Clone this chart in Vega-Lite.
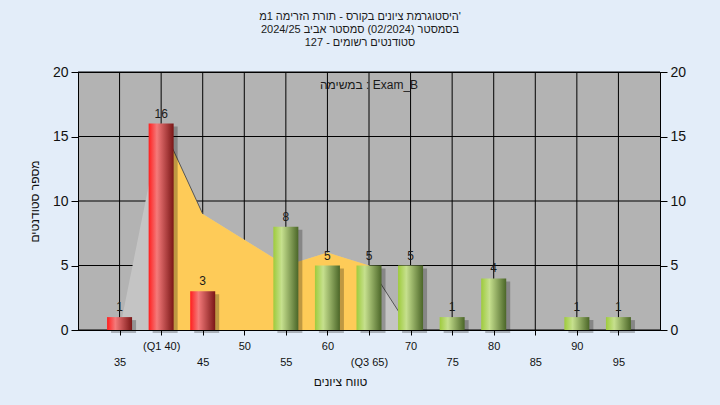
{
  "$schema": "https://vega.github.io/schema/vega-lite/v6.json",
  "width": 582,
  "height": 258,
  "autosize": {"type": "none"},
  "padding": {"left": 78, "top": 72, "right": 60, "bottom": 75},
  "background": "#e3edf9",
  "title": {
    "text": ["היסטוגרמת ציונים בקורס - תורת הזרימה 1מ'", "בסמסטר  (02/2024)  סמסטר אביב 2024/25", "סטודנטים רשומים - 127"],
    "font": "Liberation Sans",
    "fontSize": 11,
    "fontWeight": "normal",
    "color": "#1a1a1a",
    "lineHeight": 13,
    "offset": 17,
    "dx": -9,
    "anchor": "middle"
  },
  "datasets": {
    "bars": [
      {"score": 35, "count": 1, "band": "low"},
      {"score": 40, "count": 16, "band": "low"},
      {"score": 45, "count": 3, "band": "low"},
      {"score": 55, "count": 8, "band": "high"},
      {"score": 60, "count": 5, "band": "high"},
      {"score": 65, "count": 5, "band": "high"},
      {"score": 70, "count": 5, "band": "high"},
      {"score": 75, "count": 1, "band": "high"},
      {"score": 80, "count": 4, "band": "high"},
      {"score": 90, "count": 1, "band": "high"},
      {"score": 95, "count": 1, "band": "high"}
    ],
    "curve": [
      {"score": 35, "value": 0},
      {"score": 40, "value": 16},
      {"score": 45, "value": 9},
      {"score": 50, "value": 7},
      {"score": 55, "value": 5},
      {"score": 60, "value": 6},
      {"score": 65, "value": 5},
      {"score": 70, "value": 0}
    ],
    "xgrid": [{"v": 35}, {"v": 40}, {"v": 45}, {"v": 50}, {"v": 55}, {"v": 60}, {"v": 65}, {"v": 70}, {"v": 75}, {"v": 80}, {"v": 85}, {"v": 90}, {"v": 95}],
    "ygrid": [{"v": 0}, {"v": 5}, {"v": 10}, {"v": 15}, {"v": 20}],
    "note": [{"score": 65, "level": 19, "label": "במשימה : Exam_B"}]
  },
  "config": {
    "view": {"fill": "#b3b3b3", "stroke": "#000000", "strokeWidth": 1},
    "scale": {"continuousPadding": 0},
    "axis": {
      "grid": false,
      "domainColor": "#000000",
      "tickColor": "#000000",
      "labelColor": "#111111",
      "titleColor": "#111111",
      "labelFont": "Liberation Sans",
      "titleFont": "Liberation Sans",
      "titleFontWeight": "normal"
    }
  },
  "resolve": {"axis": {"y": "independent"}},
  "layer": [
    {
      "data": {"name": "ygrid"},
      "mark": {"type": "rule", "color": "#000000", "strokeWidth": 1},
      "encoding": {
        "y": {
          "field": "v", "type": "quantitative",
          "scale": {"domain": [0, 20]},
          "axis": {
            "orient": "right", "values": [0, 5, 10, 15, 20], "title": null,
            "labelFontSize": 14, "tickSize": 7, "labelPadding": 3
          }
        }
      }
    },
    {
      "data": {"name": "xgrid"},
      "mark": {"type": "rule", "color": "#000000", "strokeWidth": 1},
      "encoding": {
        "x": {
          "field": "v", "type": "quantitative",
          "scale": {"domain": [30, 100], "padding": 0},
          "axis": {
            "orient": "bottom",
            "values": [35, 40, 45, 50, 55, 60, 65, 70, 75, 80, 85, 90, 95],
            "labelExpr": "datum.value == 40 ? '(Q1 40)' : (datum.value == 65 ? ['', '(Q3 65)'] : (datum.value % 10 == 5 ? ['', datum.label] : datum.label))",
            "labelFontSize": 11,
            "labelLineHeight": 16,
            "labelBaseline": "top",
            "labelPadding": 5,
            "labelOverlap": false,
            "labelFlush": false,
            "tickSize": 5,
            "title": "טווח ציונים",
            "titleFontSize": 12,
            "titleX": 262,
            "titleY": 51,
            "titleBaseline": "middle",
            "titleAlign": "center"
          }
        }
      }
    },
    {
      "data": {"name": "curve"},
      "mark": {"type": "area", "color": "#c4c4c4", "interpolate": "linear"},
      "encoding": {
        "x": {"field": "score", "type": "quantitative", "scale": {"domain": [30, 100], "padding": 0}},
        "y": {
          "field": "value", "type": "quantitative", "scale": {"domain": [0, 20]},
          "axis": {
            "orient": "left", "values": [0, 5, 10, 15, 20], "title": "מספר סטודנטים",
            "labelFontSize": 14, "tickSize": 7, "labelPadding": 3,
            "titleFontSize": 12, "titleX": -44, "titleY": 129,
            "titleAlign": "center", "titleBaseline": "middle"
          }
        }
      }
    },
    {
      "data": {"name": "curve"},
      "transform": [{"filter": "datum.score >= 40 && datum.score <= 65"}],
      "mark": {"type": "area", "color": "#fecb58", "interpolate": "linear"},
      "encoding": {
        "x": {"field": "score", "type": "quantitative", "scale": {"domain": [30, 100], "padding": 0}},
        "y": {"field": "value", "type": "quantitative", "scale": {"domain": [0, 20]}, "axis": null}
      }
    },
    {
      "data": {"name": "curve"},
      "transform": [{"filter": "datum.score >= 40 && datum.score <= 45"}],
      "mark": {"type": "line", "color": "#555555", "strokeWidth": 1},
      "encoding": {
        "x": {"field": "score", "type": "quantitative", "scale": {"domain": [30, 100], "padding": 0}},
        "y": {"field": "value", "type": "quantitative", "scale": {"domain": [0, 20]}, "axis": null}
      }
    },
    {
      "data": {"name": "curve"},
      "transform": [{"filter": "datum.score >= 65"}],
      "mark": {"type": "line", "color": "#555555", "strokeWidth": 1},
      "encoding": {
        "x": {"field": "score", "type": "quantitative", "scale": {"domain": [30, 100], "padding": 0}},
        "y": {"field": "value", "type": "quantitative", "scale": {"domain": [0, 20]}, "axis": null}
      }
    },
    {
      "data": {"name": "bars"},
      "mark": {"type": "bar", "width": 25, "color": "#000000", "opacity": 0.25, "xOffset": 4, "x2Offset": 4, "yOffset": 3, "y2Offset": 3},
      "encoding": {
        "x": {"field": "score", "type": "quantitative", "scale": {"domain": [30, 100], "padding": 0}},
        "y": {"field": "count", "type": "quantitative", "scale": {"domain": [0, 20]}, "axis": null}
      }
    },
    {
      "data": {"name": "bars"},
      "transform": [{"filter": "datum.band == 'low'"}],
      "mark": {
        "type": "bar", "width": 25,
        "color": {
          "gradient": "linear", "x1": 0, "x2": 1, "y1": 0, "y2": 0,
          "stops": [
            {"offset": 0, "color": "#ff1e1e"},
            {"offset": 0.33, "color": "#f47a7a"},
            {"offset": 1, "color": "#7a1616"}
          ]
        }
      },
      "encoding": {
        "x": {"field": "score", "type": "quantitative", "scale": {"domain": [30, 100], "padding": 0}},
        "y": {"field": "count", "type": "quantitative", "scale": {"domain": [0, 20]}, "axis": null}
      }
    },
    {
      "data": {"name": "bars"},
      "transform": [{"filter": "datum.band == 'high'"}],
      "mark": {
        "type": "bar", "width": 25,
        "color": {
          "gradient": "linear", "x1": 0, "x2": 1, "y1": 0, "y2": 0,
          "stops": [
            {"offset": 0, "color": "#9ecb3c"},
            {"offset": 0.33, "color": "#c6e08e"},
            {"offset": 1, "color": "#4b6628"}
          ]
        }
      },
      "encoding": {
        "x": {"field": "score", "type": "quantitative", "scale": {"domain": [30, 100], "padding": 0}},
        "y": {"field": "count", "type": "quantitative", "scale": {"domain": [0, 20]}, "axis": null}
      }
    },
    {
      "data": {"name": "bars"},
      "mark": {"type": "text", "font": "Liberation Sans", "fontSize": 12, "color": "#1a1a1a", "baseline": "alphabetic", "dy": -6},
      "encoding": {
        "x": {"field": "score", "type": "quantitative", "scale": {"domain": [30, 100], "padding": 0}},
        "y": {"field": "count", "type": "quantitative", "scale": {"domain": [0, 20]}, "axis": null},
        "text": {"field": "count", "type": "quantitative"}
      }
    },
    {
      "data": {"name": "note"},
      "mark": {"type": "text", "font": "Liberation Sans", "fontSize": 12, "color": "#1a1a1a", "baseline": "middle"},
      "encoding": {
        "x": {"field": "score", "type": "quantitative", "scale": {"domain": [30, 100], "padding": 0}},
        "y": {"field": "level", "type": "quantitative", "scale": {"domain": [0, 20]}, "axis": null},
        "text": {"field": "label"}
      }
    }
  ]
}
